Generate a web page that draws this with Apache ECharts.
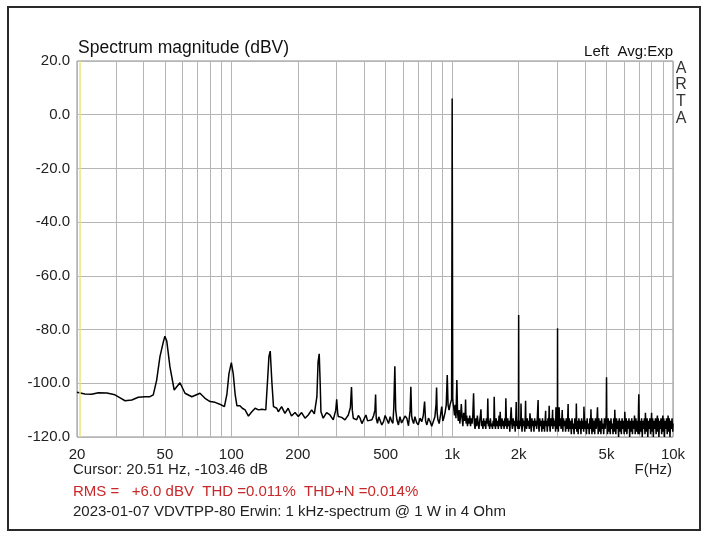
<!DOCTYPE html>
<html>
<head>
<meta charset="utf-8">
<script src="https://cdn.jsdelivr.net/npm/echarts@6/dist/echarts.min.js"></script>
<style>
html, body { margin: 0; padding: 0; background: #fff; }
#spectrum { width: 707px; height: 538px; }
</style>
</head>
<body>
<div id="spectrum"></div>
<script>
// ARTA spectrum, 1 kHz @ 1 W in 4 Ohm
var freqHz = [
  20, 21.7, 23.3, 25, 27.3, 29.7, 31.5, 33, 35.4, 37.9, 40.6, 42.8, 44.3, 45.9, 47.5, 49.2, 50, 51, 52.7, 55.1,
  58.5, 61.7, 66.2, 72.1, 76, 80.1, 84.4, 90.4, 93, 95.5, 97.5, 100, 102, 104, 106, 109.4, 112.1, 115.4, 119.5, 123.8,
  128.2, 132.7, 137.4, 143.2, 146.1, 148, 150, 152.7, 155.2, 160.6, 163.2, 168.9, 174.8, 180.8, 187.2, 194.2, 201, 208, 215.6, 223,
  231, 237.6, 244, 247, 250, 252.5, 254.5, 260.6, 270, 279.5, 289.4, 297, 300, 303, 305, 316, 327, 338.6, 346, 350,
  353, 356.6, 369.4, 376, 382.8, 390, 396.6, 406.8, 414, 421, 433, 441, 447, 450, 453, 459, 465, 472, 480, 489,
  497, 507, 515, 524, 531, 539, 544, 550, 555, 562, 571, 580, 590, 601, 612, 623, 634, 645, 650, 655,
  660, 669, 678, 690, 702, 715, 728, 740, 750, 758, 768, 781, 795, 808, 822, 835, 845, 850, 855, 862,
  873, 885, 897, 907, 916, 928, 940, 950, 958, 968, 978, 987, 994, 998, 1000, 1002, 1006, 1012, 1016, 1024,
  1032, 1040, 1050, 1058, 1066, 1075, 1083, 1092, 1100, 1109, 1118, 1127, 1136, 1145, 1150, 1156, 1164, 1173, 1182, 1192,
  1201, 1211, 1220, 1230, 1240, 1250, 1260, 1270, 1280, 1290, 1300, 1311, 1322, 1332, 1342, 1350, 1358, 1368, 1378, 1388,
  1397, 1408, 1419, 1430, 1442, 1450, 1458, 1468, 1478, 1489, 1500, 1511, 1522, 1533, 1543, 1550, 1558, 1570, 1582, 1594,
  1606, 1618, 1630, 1642, 1650, 1658, 1670, 1682, 1694, 1706, 1718, 1730, 1742, 1750, 1760, 1772, 1785, 1798, 1811, 1824,
  1837, 1850, 1862, 1875, 1889, 1902, 1916, 1930, 1943, 1950, 1958, 1972, 1986, 1996, 2000, 2004, 2014, 2028, 2042, 2050,
  2058, 2072, 2087, 2102, 2117, 2132, 2143, 2150, 2158, 2173, 2189, 2204, 2220, 2235, 2250, 2265, 2281, 2297, 2313, 2330,
  2346, 2363, 2380, 2397, 2414, 2432, 2450, 2458, 2475, 2493, 2511, 2529, 2547, 2565, 2583, 2602, 2620, 2639, 2650, 2658,
  2677, 2696, 2715, 2735, 2750, 2758, 2777, 2797, 2817, 2837, 2850, 2858, 2878, 2899, 2920, 2941, 2950, 2962, 2983, 2996,
  3000, 3004, 3026, 3050, 3070, 3092, 3114, 3136, 3150, 3170, 3193, 3216, 3239, 3262, 3285, 3309, 3333, 3350, 3366, 3390,
  3414, 3439, 3464, 3489, 3514, 3539, 3565, 3590, 3616, 3642, 3650, 3668, 3694, 3721, 3748, 3775, 3802, 3830, 3857, 3885,
  3913, 3941, 3950, 3969, 3998, 4027, 4056, 4085, 4114, 4144, 4174, 4204, 4234, 4250, 4265, 4295, 4326, 4357, 4389, 4420,
  4452, 4484, 4517, 4550, 4583, 4616, 4649, 4683, 4717, 4751, 4785, 4820, 4855, 4890, 4925, 4961, 4985, 5000, 5015, 5051,
  5088, 5125, 5162, 5199, 5237, 5275, 5313, 5351, 5390, 5430, 5450, 5469, 5509, 5549, 5589, 5629, 5670, 5711, 5753, 5795,
  5837, 5879, 5922, 5965, 6008, 6050, 6096, 6140, 6184, 6229, 6274, 6319, 6365, 6411, 6458, 6505, 6552, 6599, 6647, 6695,
  6744, 6793, 6842, 6892, 6942, 6970, 7000, 7030, 7050, 7102, 7153, 7205, 7257, 7310, 7363, 7416, 7470, 7500, 7525, 7579,
  7634, 7690, 7745, 7801, 7858, 7915, 7972, 8000, 8030, 8088, 8147, 8206, 8266, 8326, 8386, 8447, 8500, 8509, 8570, 8633,
  8695, 8758, 8822, 8886, 8950, 9000, 9015, 9080, 9146, 9212, 9279, 9346, 9414, 9482, 9500, 9551, 9620, 9690, 9760, 9831,
  9902, 9974, 10000
];
var levelDb = [
  -103.3, -104.0, -104.1, -103.5, -103.6, -104.3, -105.5, -106.5, -106.2, -105.2, -105.0, -105.0, -104.3, -98.8, -90.1, -84.6, -82.5, -84.3, -93.8, -102.5,
  -99.8, -103.7, -105.0, -103.7, -105.6, -106.8, -107.1, -108.1, -108.7, -104, -96.5, -92.3, -96.5, -104, -108.4, -108.4, -109.3, -109.9, -112.2, -110.6,
  -109.3, -109.9, -109.7, -109.9, -98, -90, -88.0, -100.0, -108.7, -109.3, -110.6, -108.7, -111.2, -109.3, -112.2, -110.9, -112.4, -110.9, -113.0, -111.8,
  -109.9, -111.4, -105, -92, -89.0, -100, -110.6, -113.0, -110.9, -111.8, -113.6, -110, -106.0, -111, -112.4, -112.7, -113.6, -111.8, -109, -101.4,
  -110, -113.0, -113.6, -112, -113.0, -115, -114.6, -111.8, -114, -114.3, -113.6, -112, -110, -104.2, -113, -114.9, -112.5, -113.0, -115.5, -114.3,
  -112, -113.6, -115, -112.4, -114, -114.9, -109, -93.7, -110, -113.6, -115.5, -112.4, -114.8, -114.3, -112.2, -113.0, -115.8, -110, -101.3, -112,
  -113.6, -115, -112.4, -114.6, -115.5, -113, -114.3, -112, -106.8, -114, -115.5, -113, -114.3, -116, -115.5, -112.5, -108, -101.6, -111, -113.6,
  -115, -112, -108.7, -114, -113.0, -111, -108, -96.9, -108, -110, -108, -108, -106, -40, 6.0, -33, -106, -108, -109, -112,
  -108, -113, -98.8, -111, -114, -110, -115, -112, -107.7, -113, -116, -111, -114, -112, -106.0, -115, -112, -116, -113, -115,
  -112, -116, -113, -115, -112, -103.7, -115, -117, -113, -116, -112, -115, -117, -114, -112, -109.7, -116, -114, -117, -113,
  -116, -114, -117, -113, -115, -105.7, -116, -114, -117, -113, -116, -115, -117, -114, -116, -105.0, -114, -117, -113, -116,
  -114, -117, -112, -116, -110.6, -115, -117, -113, -116, -114, -117, -113, -116, -105.6, -114, -117, -113, -116, -114, -118,
  -113, -108.9, -115, -117, -113, -116, -114, -118, -112, -107.0, -116, -114, -117, -112, -74.6, -113, -117, -114, -116, -107.5,
  -114, -118, -113, -116, -114, -118, -112, -106.5, -115, -117, -113, -116, -114, -117, -111.2, -114, -118, -113, -116, -114,
  -118, -113, -116, -114, -117, -112, -106.2, -115, -118, -113, -116, -114, -118, -113, -117, -114, -118, -113, -110.2, -116,
  -114, -118, -113, -116, -108.4, -114, -118, -113, -116, -114, -109.9, -117, -113, -116, -114, -118, -108.9, -113, -117, -112,
  -79.5, -114, -118, -108.9, -116, -113, -117, -114, -110, -118, -113, -116, -114, -118, -113, -117, -114, -107.7, -118, -113,
  -117, -114, -119, -113, -117, -115, -119, -113, -117, -113, -107.5, -118, -114, -119, -113, -117, -114, -119, -113, -117,
  -114, -118, -108.7, -113, -117, -114, -119, -113, -117, -115, -119, -113, -117, -109.7, -114, -119, -113, -118, -114, -119,
  -113, -117, -115, -108.9, -119, -113, -118, -114, -119, -113, -117, -115, -119, -113, -117, -114, -112, -97.8, -114, -119,
  -113, -118, -114, -119, -113, -117, -115, -119, -113, -118, -109.9, -114, -119, -113, -117, -114, -120, -113, -118, -114,
  -119, -113, -117, -114, -119, -110.6, -118, -113, -119, -114, -117, -113, -120, -114, -118, -113, -119, -114, -117, -112,
  -119, -113, -118, -114, -119, -112, -104.1, -113, -119, -114, -118, -113, -120, -114, -117, -113, -119, -111, -114, -118,
  -113, -120, -114, -117, -113, -119, -114, -111, -118, -113, -120, -114, -117, -113, -119, -114, -112, -118, -113, -120,
  -114, -117, -113, -119, -114, -112, -118, -113, -120, -114, -117, -113, -119, -114, -112, -118, -113, -120, -114, -117,
  -113, -118, -115
];

var gridFreqs = [20, 30, 40, 50, 60, 70, 80, 90, 100, 200, 300, 400, 500, 600, 700, 800, 900,
                 1000, 2000, 3000, 4000, 5000, 6000, 7000, 8000, 9000, 10000];
var labelFreqs = [20, 50, 100, 200, 500, 1000, 2000, 5000, 10000];
var cursorHz = 20.51;

var titleText = 'Spectrum magnitude (dBV)';
var channelText = 'Left  Avg:Exp';
var cursorText = 'Cursor: 20.51 Hz, -103.46 dB';
var rmsText = 'RMS =   +6.0 dBV  THD =0.011%  THD+N =0.014%';
var noteText = '2023-01-07 VDVTPP-80 Erwin: 1 kHz-spectrum @ 1 W in 4 Ohm';

var font = '"Liberation Sans", Arial, sans-serif';

var points = [];
for (var i = 0; i < freqHz.length; i++) {
    points.push([freqHz[i], levelDb[i]]);
}

function fmtHz(v) {
    var f = Math.round(Math.pow(10, v));
    return f >= 1000 ? (f / 1000) + 'k' : String(f);
}

var option = {
    animation: false,
    backgroundColor: '#fff',
    grid: {
        left: 77, right: 34, top: 61, bottom: 101,
        show: true, borderColor: '#8c8c8c', borderWidth: 1
    },
    xAxis: [{
        // data axis (log), hidden
        type: 'log', logBase: 10, min: 20, max: 10000, show: false
    }, {
        // same range in log10 units, only for grid lines and labels
        type: 'value', min: Math.log10(20), max: 4,
        position: 'bottom',
        axisLine: { show: false },
        axisTick: { show: false, customValues: gridFreqs.map(Math.log10) },
        axisLabel: {
            customValues: labelFreqs.map(Math.log10),
            formatter: fmtHz, margin: 10,
            fontFamily: font, fontSize: 15, color: '#222'
        },
        splitLine: { show: true, lineStyle: { color: '#b5b5b5', width: 1 } }
    }],
    yAxis: {
        type: 'value', min: -120, max: 20, interval: 20,
        axisLine: { show: false },
        axisTick: { show: false },
        axisLabel: {
            formatter: function (v) { return v.toFixed(1); },
            margin: 7, fontFamily: font, fontSize: 15, color: '#222'
        },
        splitLine: { show: true, lineStyle: { color: '#b5b5b5', width: 1 } }
    },
    series: [{
        type: 'line',
        xAxisIndex: 0,
        data: points,
        showSymbol: false,
        symbol: 'none',
        sampling: null,
        lineStyle: { color: '#000', width: 1.5 },
        markLine: {
            silent: true, symbol: 'none',
            label: { show: false },
            lineStyle: { color: '#e6e678', width: 1.5, type: 'solid' },
            data: [{ xAxis: cursorHz }]
        }
    }],
    graphic: [
        { type: 'rect', shape: { x: 8, y: 7, width: 692, height: 523 },
          style: { fill: 'none', stroke: '#2a2a2a', lineWidth: 2 } },
        { type: 'text', x: 78, y: 48,
          style: { text: titleText, font: '17.5px ' + font, fill: '#111', textVerticalAlign: 'middle' } },
        { type: 'text', x: 673, y: 52,
          style: { text: channelText, font: '15px ' + font, fill: '#111', textAlign: 'right', textVerticalAlign: 'middle' } },
        { type: 'text', x: 681, y: 60,
          style: { text: 'A\nR\nT\nA', font: '16px ' + font, fill: '#333', textAlign: 'center', lineHeight: 16.7 } },
        { type: 'text', x: 73, y: 470,
          style: { text: cursorText, font: '15px ' + font, fill: '#222', textVerticalAlign: 'middle' } },
        { type: 'text', x: 672, y: 470,
          style: { text: 'F(Hz)', font: '15px ' + font, fill: '#222', textAlign: 'right', textVerticalAlign: 'middle' } },
        { type: 'text', x: 73, y: 492,
          style: { text: rmsText, font: '15px ' + font, fill: '#c8282a', textVerticalAlign: 'middle' } },
        { type: 'text', x: 73, y: 512,
          style: { text: noteText, font: '15px ' + font, fill: '#222', textVerticalAlign: 'middle' } }
    ]
};

var chart = echarts.init(document.getElementById('spectrum'));
chart.setOption(option);
</script>
</body>
</html>
